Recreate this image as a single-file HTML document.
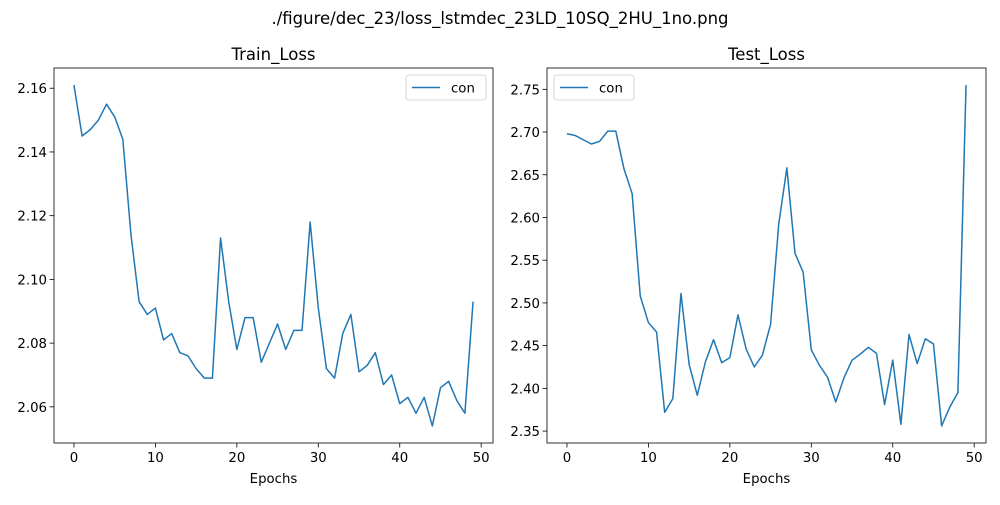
<!DOCTYPE html>
<html><head><meta charset="utf-8"><style>
body{margin:0;background:#fff;width:1000px;height:500px;overflow:hidden}
svg text{font-family:"DejaVu Sans","Liberation Sans",sans-serif;fill:#000}
</style></head><body>
<svg id="fig" width="1000" height="500" xmlns="http://www.w3.org/2000/svg">
<text x="500" y="24" text-anchor="middle" font-size="16.5">./figure/dec_23/loss_lstmdec_23LD_10SQ_2HU_1no.png</text>
</svg>
<script>
const epochs = Array.from({length:50},(_,i)=>i);
const trainLoss = [2.161,2.145,2.147,2.150,2.155,2.151,2.144,2.114,2.093,2.089,2.091,2.081,2.083,2.077,2.076,2.072,2.069,2.069,2.113,2.093,2.078,2.088,2.088,2.074,2.080,2.086,2.078,2.084,2.084,2.118,2.091,2.072,2.069,2.083,2.089,2.071,2.073,2.077,2.067,2.070,2.061,2.063,2.058,2.063,2.054,2.066,2.068,2.062,2.058,2.093];
const testLoss = [2.698,2.696,2.691,2.686,2.689,2.701,2.701,2.657,2.628,2.508,2.477,2.466,2.372,2.388,2.511,2.428,2.392,2.431,2.457,2.430,2.436,2.486,2.446,2.425,2.439,2.475,2.592,2.658,2.558,2.536,2.445,2.427,2.413,2.384,2.412,2.433,2.440,2.448,2.441,2.381,2.433,2.358,2.463,2.429,2.458,2.452,2.356,2.378,2.395,2.755];
const xTicks = [0,10,20,30,40,50];
const trainYTicks = [2.06,2.08,2.10,2.12,2.14,2.16];
const testYTicks = [2.35,2.40,2.45,2.50,2.55,2.60,2.65,2.70,2.75];
const trainTitle = "Train_Loss", testTitle = "Test_Loss";

const NS="http://www.w3.org/2000/svg";
const svg=document.getElementById('fig');
function mk(tag,attrs,parent){const e=document.createElementNS(NS,tag);for(const k in attrs)e.setAttribute(k,attrs[k]);(parent||svg).appendChild(e);return e;}

function panel(key,L,T,W,H,ys,yTicks,title,legendRight,dec){
  const g=mk('g',{});
  
  
  const x0=-2.45,x1=51.45;
  const mn=Math.min(...ys),mx=Math.max(...ys),pad=(mx-mn)*0.05;
  const y0=mn-pad,y1=mx+pad;
  const sx=v=>L+(v-x0)/(x1-x0)*W;
  const sy=v=>T+H-(v-y0)/(y1-y0)*H;
  const t=mk('text',{x:L+W/2,y:T-8,'text-anchor':'middle','font-size':16.5},g);
  t.textContent=title;
  
  
  xTicks.forEach(v=>{
    const x=sx(v);
    mk('line',{x1:x,x2:x,y1:T+H,y2:T+H+4.5,stroke:'#000','stroke-width':0.8},g);
    const tx=mk('text',{x:x,y:T+H+19,'text-anchor':'middle','font-size':13.3},g);
    tx.textContent=v;
    
    
  });
  yTicks.forEach(v=>{
    const y=sy(v);
    mk('line',{x1:L-4.5,x2:L,y1:y,y2:y,stroke:'#000','stroke-width':0.8},g);
    const ty=mk('text',{x:L-7,y:y+5,'text-anchor':'end','font-size':13.3},g);
    ty.textContent=v.toFixed(dec);
    
    
  });
  const xl=mk('text',{x:L+W/2,y:T+H+40,'text-anchor':'middle','font-size':13.3},g);
  xl.textContent='Epochs';
  
  
  const pts=ys.map((v,i)=>sx(epochs[i]).toFixed(2)+','+sy(v).toFixed(2)).join(' ');
  const line=mk('polyline',{points:pts,fill:'none',stroke:'#1f77b4','stroke-width':1.5,'stroke-linejoin':'round'},g);
  
  
  mk('rect',{x:L,y:T,width:W,height:H,fill:'none',stroke:'#000','stroke-width':0.8},g);
  const lw=80,lx=legendRight?L+W-7-lw:L+7,ly=T+7;
  const lg=mk('g',{},g);
  
  
  mk('rect',{x:lx,y:ly,width:lw,height:25,rx:3,fill:'#fff',stroke:'#ccc','stroke-width':0.8},lg);
  mk('line',{x1:lx+6,x2:lx+34,y1:ly+12.5,y2:ly+12.5,stroke:'#1f77b4','stroke-width':1.5},lg);
  const lt=mk('text',{x:lx+45,y:ly+17.5,'font-size':13.3},lg);
  lt.textContent='con';
  
  
}
panel('train',54,68,439,375,trainLoss,trainYTicks,trainTitle,true,2);
panel('test',547,68,439,375,testLoss,testYTicks,testTitle,false,2);
</script>
</body></html>
